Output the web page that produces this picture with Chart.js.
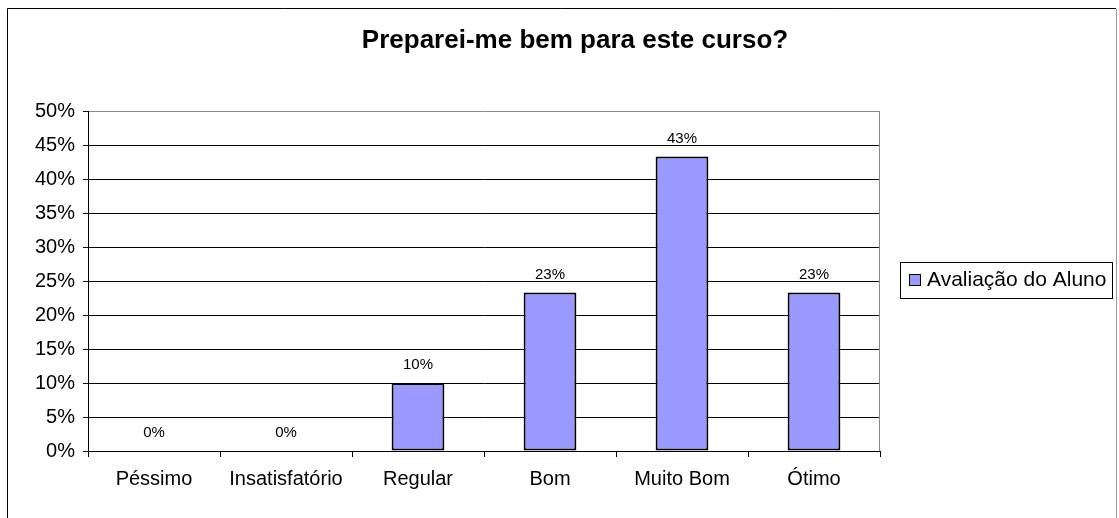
<!DOCTYPE html>
<html><head><meta charset="utf-8">
<script src="https://cdn.jsdelivr.net/npm/chart.js@4"></script>
<style>html,body{margin:0;padding:0;background:#fff;}#wrap{width:1119px;height:518px;position:relative}</style>
</head><body><div id="wrap"><canvas id="c" width="1119" height="518"></canvas></div>
<script>
const titleText = 'Preparei-me bem para este curso?';
const categories = ['Péssimo', 'Insatisfatório', 'Regular', 'Bom', 'Muito Bom', 'Ótimo'];
const seriesName = 'Avaliação do Aluno';
const values = [0, 0, 10, 23.3, 43.3, 23.3];
const valueLabels = ['0%', '0%', '10%', '23%', '43%', '23%'];
const yMin = 0, yMax = 50, yStep = 5;

const FONT = "'Liberation Sans', Arial, sans-serif";
const BAR_FILL = '#9999FF';

const decor = {
  id: 'decor',
  afterDraw(chart) {
    const ctx = chart.ctx;
    const a = chart.chartArea;
    ctx.save();
    // plot-area right border (gray)
    ctx.strokeStyle = '#888';
    ctx.lineWidth = 1;
    ctx.beginPath();
    ctx.moveTo(Math.round(a.right) - 0.5, a.top);
    ctx.lineTo(Math.round(a.right) - 0.5, a.bottom);
    ctx.stroke();
    // outer frame
    ctx.strokeStyle = '#000';
    ctx.beginPath();
    ctx.moveTo(7.5, 518); ctx.lineTo(7.5, 8.5); ctx.lineTo(1116, 8.5);
    ctx.stroke();
    ctx.strokeStyle = '#999';
    ctx.beginPath();
    ctx.moveTo(1116.5, 9); ctx.lineTo(1116.5, 518);
    ctx.stroke();
    // title
    ctx.fillStyle = '#000';
    ctx.font = 'bold 26px ' + FONT;
    ctx.textAlign = 'center';
    ctx.textBaseline = 'middle';
    ctx.fillText(titleText, 575, 41);
    // data labels
    ctx.font = '15px ' + FONT;
    ctx.textBaseline = 'middle';
    const meta = chart.getDatasetMeta(0);
    meta.data.forEach((bar, i) => {
      ctx.fillText(valueLabels[i], bar.x, bar.y - 18);
    });
    // legend
    const lx = 900, ly = 262, lw = 212, lh = 36;
    ctx.fillStyle = '#fff';
    ctx.fillRect(lx, ly, lw, lh);
    ctx.strokeStyle = '#000';
    ctx.strokeRect(lx + 0.5, ly + 0.5, lw, lh);
    ctx.fillStyle = BAR_FILL;
    ctx.fillRect(909.5, 274.5, 11, 11);
    ctx.strokeRect(909.5, 274.5, 11, 11);
    ctx.fillStyle = '#000';
    ctx.font = '21px ' + FONT;
    ctx.textAlign = 'left';
    ctx.fillText(chart.data.datasets[0].label, 927, 280);
    ctx.restore();
  }
};

new Chart(document.getElementById('c'), {
  type: 'bar',
  data: {
    labels: categories,
    datasets: [{
      label: seriesName,
      data: values,
      backgroundColor: BAR_FILL,
      borderColor: '#000',
      borderWidth: 2,
      borderSkipped: false,
      barPercentage: 0.4,
      categoryPercentage: 1.0
    }]
  },
  options: {
    responsive: false,
    animation: false,
    layout: { padding: { top: 111, right: 239, bottom: 0, left: 0 } },
    plugins: { legend: { display: false }, title: { display: false }, tooltip: { enabled: false } },
    scales: {
      x: {
        offset: true,
        grid: { offset: true, drawOnChartArea: false, drawTicks: true, tickLength: 6, color: '#000' },
        border: { color: '#000', width: 1 },
        ticks: { color: '#000', font: { family: FONT, size: 20 }, padding: 10, maxRotation: 0 },
        afterFit(s) { s.height = 67; }
      },
      y: {
        min: yMin, max: yMax,
        grid: {
          color: (c) => (c.tick && c.tick.value === yMax) ? '#888' : '#000',
          tickColor: '#000', tickLength: 5
        },
        border: { color: '#000', width: 1 },
        ticks: { stepSize: yStep, color: '#000', font: { family: FONT, size: 20 }, padding: 8,
          callback: (v) => v + '%' },
        afterFit(s) { s.width = 88; }
      }
    }
  },
  plugins: [decor]
});
</script>
</body></html>
